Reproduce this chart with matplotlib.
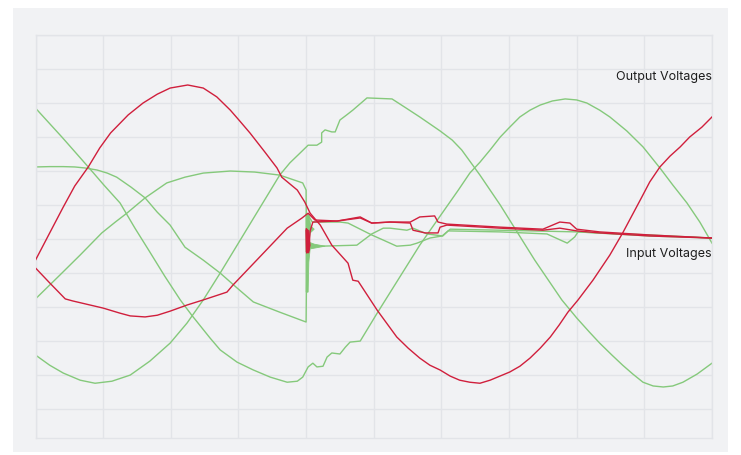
import matplotlib.pyplot as plt
from matplotlib.patches import Rectangle

# time in ms, voltage in V
red1_t = [0, 2.1, 4.1, 5.8, 7.8, 9.5, 11.1, 13.7, 15.9, 18.0, 19.9, 22.5, 24.8, 26.8, 28.8,
          30.2, 31.7, 33.9, 35.7, 36.4, 38.7, 39.8, 40.6, 42.1, 43.8, 46.2, 46.9, 47.7, 50.5,
          53.4, 55.1, 56.8, 58.3, 59.8, 61.3, 62.7, 64.2, 65.7, 67.2, 70.1, 71.6, 73.1, 74.6,
          76.1, 77.4, 78.7, 80.2, 82.4, 84.9, 86.8, 89.4, 90.8, 92.3, 93.8, 95.3, 96.7, 98.5,
          100]
red1_v = [-62, 18, 94, 156, 212, 268, 312, 365, 400, 426, 444, 453, 444, 418, 379,
          347, 312, 256, 209, 182, 144, 109, 76, 41, -18, -71, -121, -124, -209,
          -288, -321, -350, -371, -385, -403, -415, -421, -424, -415, -391, -374, -350, -321,
          -288, -253, -215, -179, -121, -47, 18, 115, 168, 212, 244, 271, 300, 329,
          359]

red2_t = [0, 2.1, 4.4, 5.5, 10, 12.5, 14, 16.2, 18.0, 19.9, 22.4, 24.8, 28.3, 29.2, 32.7,
          37.2, 39.4, 40.3, 41.3, 44.6, 48, 49.7, 52.4, 55.4, 56.8, 59, 59.5, 60.8, 68.7,
          75, 77.5, 79, 80, 83.4, 90.8, 100]
red2_v = [-85, -129, -176, -182, -203, -218, -226, -229, -224, -212, -194, -179, -156, -135, -62,
          32, 62, 76, 56, 53, 65, 47, 50, 50, 65, 68, 50, 44, 35,
          29, 50, 47, 29, 21, 12, 3]

red3_t = [40, 40.1, 40.4, 40.6, 41, 44.6, 48, 49.7, 52.4, 55.4, 55.8, 57.6, 59.5, 59.8, 60.8,
          68.7, 75, 77.5, 80, 83.4, 90.8, 100]
red3_v = [26, -41, -32, 24, 50, 53, 62, 47, 50, 47, 26, 18, 18, 35, 41,
          32, 26, 32, 24, 18, 9, 3]

gA_t = [0, 3.9, 7.8, 10.1, 12.5, 14.7, 16.9, 19.1, 21.4, 23.1, 25.8, 27.3, 29.8, 32.2, 34.7,
        37.2, 38.7, 39.5, 40.3, 41, 41.6, 42.5, 43.1, 43.8, 45, 45.8, 46.5, 48, 50.5, 56.8,
        62.5, 64.2, 65.7, 67.2, 68.7, 70.1, 71.6, 73.1, 74.6, 76.4, 78.3, 80.0, 81.5, 83.4,
        84.9, 87.4, 89.8, 92.3, 94.2, 96.3, 98.2, 100]
gA_v = [385, 300, 212, 159, 106, 32, -38, -109, -179, -224, -291, -326, -362, -385, -406,
        -421, -418, -406, -376, -365, -376, -374, -347, -335, -338, -318, -303, -300, -218, -18,
        144, 194, 226, 262, 300, 329, 359, 379, 394, 406, 412, 409, 400, 379,
        359, 318, 271, 209, 159, 106, 50, -12]

gB_t = [0, 2.1, 4.1, 5.8, 7.3, 9.1, 10.6, 12, 14.1, 16.2, 18, 19.9, 22.1, 24.8, 27.3,
        29.8, 32.2, 36.1, 40, 40.1, 42.1, 47.5, 49.7, 51.4, 52.4, 54.9, 55.8, 57.9, 60.2,
        61, 68.7, 75.6, 78.6, 79.7, 80.2, 90.8, 100]
gB_v = [212, 213, 213, 212, 209, 203, 194, 182, 153, 121, 79, 41, -24, -62, -100,
        -144, -185, -215, -244, -21, -21, -18, 15, 32, 32, 26, 32, 15, 9,
        24, 21, 15, -12, 6, 21, 9, 3]

gC_t = [0, 2.1, 4.1, 6.6, 8.8, 11.3, 14, 16.9, 19.9, 22.4, 24.8, 27.3, 31.7, 36.1, 37.6,
        38.8, 40.3, 41.6, 42.3, 42.3, 42.8, 43.8, 44.3, 45, 46, 46.9, 49, 52.7, 54.8,
        56.8, 59.8, 61.6, 63, 65.7, 68.7, 73.8, 77.8, 80, 81.9, 83.4, 85.2, 86.8, 88.3,
        89.8, 91.3, 92.8, 94.2, 95.7, 97.8, 100]
gC_v = [-341, -371, -394, -415, -424, -418, -400, -359, -306, -247, -179, -100, 44, 188, 224,
        247, 276, 276, 285, 312, 321, 315, 315, 350, 365, 379, 415, 412, 385,
        359, 318, 291, 262, 188, 100, -62, -179, -232, -274, -306, -341, -371, -397,
        -421, -432, -435, -432, -421, -397, -365]

gD_t = [0, 3.6, 6.6, 9.8, 11.8, 13.5, 16.2, 19.4, 22.1, 24.8, 28.8, 32.4, 36.1, 39.5, 40,
        40.1, 40.3, 40.9, 45, 46.2, 49.7, 51.4, 53.4, 55.4, 56.4, 58.3, 60.1, 61.3, 68.7,
        80, 90.8, 100]
gD_v = [-176, -106, -47, 18, 50, 76, 121, 165, 182, 194, 200, 197, 188, 165, 144,
        -156, 71, 50, 50, 47, 12, -3, -21, -18, -12, 3, 9, 29, 26,
        21, 12, 3]

# transient blobs at the switching instant
gblob_t = [40, 40.4, 40.7, 41.2, 40.6, 40.4, 41.2, 42.8, 40.6, 40.4, 40.3, 40]
gblob_v = [76, 71, 38, 29, 18, -9, -15, -21, -29, -68, -156, -156]
rblob_t = [40, 40.4, 40.6, 40.4, 40]
rblob_v = [32, 24, -18, -41, -38]

RED = '#d01f3c'
GREEN = '#85c97b'
GRID = '#e2e4e8'
PANEL = '#f1f2f4'

fig = plt.figure(figsize=(7.41, 4.55), dpi=100)
fig.patch.set_facecolor('white')
fig.patches.append(Rectangle((13 / 741, 1 - 452 / 455), 715 / 741, 444 / 455,
                             transform=fig.transFigure, facecolor=PANEL,
                             edgecolor='none', zorder=-10))

ax = fig.add_axes([35.5 / 741, 1 - 438 / 455, 676.5 / 741, 403 / 455])
ax.set_facecolor(PANEL)

for t, v in [(gA_t, gA_v), (gB_t, gB_v), (gC_t, gC_v), (gD_t, gD_v)]:
    ax.plot(t, v, color=GREEN, lw=1.0, zorder=2)
ax.fill(gblob_t, gblob_v, color=GREEN, lw=0.6, zorder=2)

for t, v in [(red1_t, red1_v), (red2_t, red2_v), (red3_t, red3_v)]:
    ax.plot(t, v, color=RED, lw=1.0, zorder=3)
ax.fill(rblob_t, rblob_v, color=RED, lw=0.6, zorder=3)

ax.set_xlim(0, 100)
ax.set_ylim(-585, 600)
ax.set_xticks(range(0, 101, 10))
ax.set_yticks(range(-500, 601, 100))
ax.grid(True, color=GRID, lw=1.0)
ax.set_axisbelow(True)
ax.tick_params(length=0, labelleft=False, labelbottom=False)
for s in ax.spines.values():
    s.set_color(GRID)
    s.set_linewidth(1.0)

ax.text(100, 476, 'Output Voltages', ha='right', va='center', fontsize=9,
        family=['Inter', 'DejaVu Sans'], color='#1e1e1e', zorder=4)
ax.text(100, -44, 'Input Voltages', ha='right', va='center', fontsize=9,
        family=['Inter', 'DejaVu Sans'], color='#1e1e1e', zorder=4)

fig.savefig('out.png', dpi=100)
